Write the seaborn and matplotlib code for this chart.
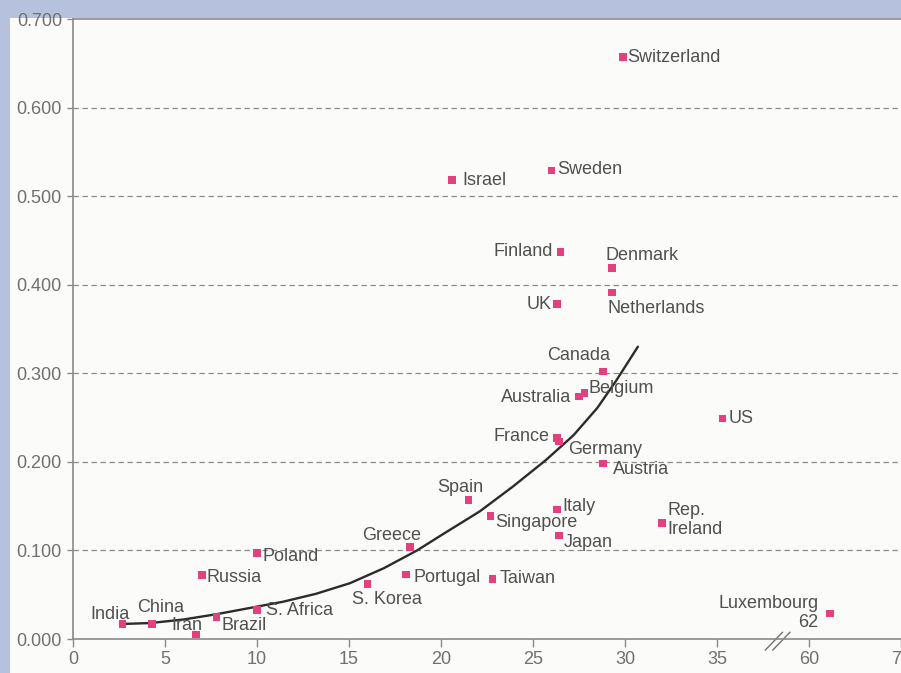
import numpy as np
import pandas as pd
import seaborn as sns
import matplotlib.pyplot as plt
from matplotlib.ticker import FormatStrFormatter
from matplotlib.patches import Rectangle

# data
countries = ["Switzerland", "Israel", "Sweden", "Finland", "Denmark", "UK",
             "Netherlands", "Canada", "Australia", "Belgium", "France", "Germany",
             "Austria", "US", "Spain", "Italy", "Singapore", "Japan", "Rep.\nIreland",
             "Greece", "Poland", "Russia", "Portugal", "Taiwan", "S. Korea",
             "S. Africa", "Brazil", "India", "China", "Iran", "Luxembourg\n62"]
x_vals = [29.9, 20.6, 26.0, 26.5, 29.3, 26.3,
          29.3, 28.8, 27.5, 27.8, 26.3, 26.4,
          28.8, 35.3, 21.5, 26.3, 22.7, 26.4, 32.0,
          18.3, 10.0, 7.0, 18.1, 22.8, 16.0,
          10.0, 7.8, 2.7, 4.3, 6.7, 62.3]
y_vals = [0.657, 0.518, 0.529, 0.437, 0.419, 0.378,
          0.391, 0.302, 0.274, 0.278, 0.227, 0.223,
          0.198, 0.249, 0.157, 0.146, 0.139, 0.117, 0.131,
          0.104, 0.097, 0.072, 0.073, 0.068, 0.062,
          0.033, 0.025, 0.017, 0.017, 0.005, 0.029]

# trend curve, points
curve_x = [2.7, 4.2, 6.0, 7.8, 9.6, 11.4, 13.2, 15.05, 16.9, 18.7, 20.0,
           22.1, 23.9, 25.7, 27.2, 28.5, 29.5, 30.7]
curve_y = [0.017, 0.018, 0.022, 0.028, 0.035, 0.042, 0.051, 0.063, 0.080, 0.100, 0.117,
           0.144, 0.172, 0.202, 0.230, 0.261, 0.291, 0.330]

y_ticks = [0.0, 0.1, 0.2, 0.3, 0.4, 0.5, 0.6, 0.7]
x_ticks = [0, 5, 10, 15, 20, 25, 30, 35, 60, 70]
x_tick_labels = ["0", "5", "10", "15", "20", "25", "30", "35", "60", "70"]

# label placement: (dx px, dy px, ha)
label_pos = {
    "Switzerland": (4, 0, "left"), "Israel": (10, 0, "left"), "Sweden": (6, 1, "left"),
    "Finland": (-8, 0, "right"), "Denmark": (-7, 12, "left"), "UK": (-5, 0, "right"),
    "Netherlands": (-5, -16, "left"), "Canada": (-24, 16, "center"),
    "Australia": (-8, -1, "right"), "Belgium": (4, 4, "left"), "France": (-7, 1, "right"),
    "Germany": (9, -8, "left"), "Austria": (10, -6, "left"), "US": (6, 0, "left"),
    "Spain": (-8, 12, "center"), "Italy": (5, 3, "left"), "Singapore": (5, -7, "left"),
    "Japan": (5, -7, "left"), "Rep.\nIreland": (6, 3, "left"), "Greece": (-18, 11, "center"),
    "Poland": (5, -3, "left"), "Russia": (5, -2, "left"), "Portugal": (7, -3, "left"),
    "Taiwan": (7, 0, "left"), "S. Korea": (-15, -15, "left"), "S. Africa": (9, -1, "left"),
    "Brazil": (5, -9, "left"), "India": (-13, 9, "center"), "China": (9, 16, "center"),
    "Iran": (-9, 9, "center"), "Luxembourg\n62": (-12, 0, "right"),
}

df = pd.DataFrame({"country": countries, "x": x_vals, "y": y_vals})
curve = pd.DataFrame({"x": curve_x, "y": curve_y})


# broken x axis: 37.5..60 squeezed, above 60 half scale
def fwd(x):
    x = np.asarray(x, dtype=float)
    return np.where(x <= 37.5, x,
                    np.where(x < 60, 37.5 + (x - 37.5) * 2.5 / 22.5, 40 + (x - 60) / 2))


def inv(u):
    u = np.asarray(u, dtype=float)
    return np.where(u <= 37.5, u,
                    np.where(u < 40, 37.5 + (u - 37.5) * 22.5 / 2.5, 60 + (u - 40) * 2))


sns.set_style("white")
plt.rcParams["font.family"] = ["Liberation Sans", "DejaVu Sans"]

fig = plt.figure(figsize=(9.01, 6.73), dpi=100, facecolor="#b6c1dd")
fig.patches.append(Rectangle((10 / 901, 0), 1, 655 / 673, transform=fig.transFigure,
                             facecolor="#fbfbf9", edgecolor="none", zorder=-10))
ax = fig.add_axes([73 / 901, 34 / 673, 828 / 901, 620 / 673])
ax.set_facecolor("#fbfbf9")
ax.set_xscale("function", functions=(fwd, inv))

# dashed gridlines (top one is the solid frame line)
for yt in y_ticks[1:-1]:
    ax.axhline(yt, color="#8a8a8a", lw=0.9, linestyle=(0, (4.3, 2.9)), zorder=1)

sns.lineplot(data=curve, x="x", y="y", ax=ax, color="#2b2b2b", lw=1.7,
             estimator=None, sort=False, zorder=3, solid_joinstyle="round",
             solid_capstyle="round")
sns.scatterplot(data=df, x="x", y="y", ax=ax, marker="s", color="#e4407f",
                s=30, edgecolor="none", zorder=4)

for _, r in df.iterrows():
    dx, dy, ha = label_pos[r["country"]]
    ax.annotate(r["country"], (r["x"], r["y"]), xytext=(dx, dy),
                textcoords="offset pixels", ha=ha, va="center", multialignment=ha,
                fontsize=13, color="#505050", linespacing=1.15, zorder=5)

ax.set_xlim(0, 70)
ax.set_ylim(0, 0.7)
ax.set_xticks(x_ticks)
ax.set_xticklabels(x_tick_labels)
ax.set_yticks(y_ticks)
ax.yaxis.set_major_formatter(FormatStrFormatter("%.3f"))
ax.set_xlabel("")
ax.set_ylabel("")
ax.grid(False)

for s in ["left", "bottom", "top"]:
    ax.spines[s].set_color("#8a8a8a")
    ax.spines[s].set_linewidth(1.2)
ax.spines["right"].set_visible(False)
ax.tick_params(axis="y", length=4, width=1, color="#8a8a8a", labelsize=13,
               labelcolor="#707070", pad=4, direction="out", left=True)
ax.tick_params(axis="x", length=5.5, width=1, color="#8a8a8a", labelsize=13,
               labelcolor="#707070", pad=3, direction="out", bottom=True)

# axis break marks
for x0 in [0.836, 0.845]:
    ax.plot([x0, x0 + 0.021], [-0.018, 0.011], transform=ax.transAxes,
            color="#707070", lw=1.0, clip_on=False)

fig.savefig("out.png", dpi=100, facecolor=fig.get_facecolor())
